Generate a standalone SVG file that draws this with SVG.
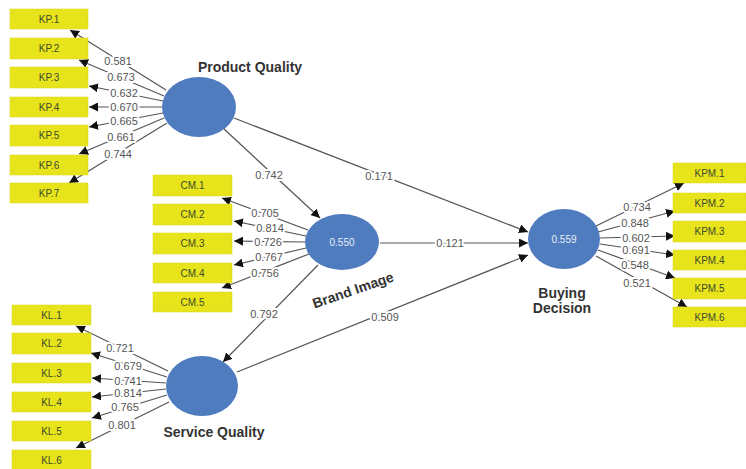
<svg xmlns="http://www.w3.org/2000/svg" width="746" height="469" viewBox="0 0 746 469">
<defs>
<marker id="ah" viewBox="0 0 10 10" refX="10" refY="5" markerWidth="9" markerHeight="9" markerUnits="userSpaceOnUse" orient="auto">
<path d="M0,0 L10,5 L0,10 z" fill="#111"/>
</marker>
<style>
.box{fill:#e8e41c;stroke:#d6d21a;stroke-width:0.5}
.bt{font-family:"Liberation Sans",Arial,sans-serif;font-size:10px;fill:#3d4a2a;text-anchor:middle;dominant-baseline:central}
.lv{fill:#4f7bbf}
.lvt{font-family:"Liberation Sans",Arial,sans-serif;font-size:10px;fill:#e8eef8;text-anchor:middle;dominant-baseline:central}
.nm{font-family:"Liberation Sans",Arial,sans-serif;font-size:14px;font-weight:bold;fill:#333;text-anchor:middle}
.ln{stroke:#555;stroke-width:1.2;fill:none;marker-end:url(#ah)}
.lb{font-family:"Liberation Sans",Arial,sans-serif;font-size:11px;fill:#555;text-anchor:middle;dominant-baseline:central;stroke:#fff;stroke-width:4;stroke-linejoin:round;paint-order:stroke}
</style>
</defs>
<rect width="746" height="469" fill="#fff"/>

<g id="connectors">
<line class="ln" x1="166" y1="90" x2="70" y2="30"/>
<line class="ln" x1="164" y1="96" x2="79" y2="60"/>
<line class="ln" x1="163" y1="101" x2="89" y2="86"/>
<line class="ln" x1="162" y1="107" x2="89" y2="107"/>
<line class="ln" x1="163" y1="113" x2="89" y2="127"/>
<line class="ln" x1="164" y1="118" x2="79" y2="154"/>
<line class="ln" x1="167" y1="123" x2="69" y2="183"/>

<line class="ln" x1="308" y1="230" x2="222" y2="198"/>
<line class="ln" x1="306" y1="236" x2="234" y2="221"/>
<line class="ln" x1="305" y1="242" x2="234" y2="241"/>
<line class="ln" x1="306" y1="248" x2="234" y2="265"/>
<line class="ln" x1="309" y1="254" x2="222" y2="288"/>

<line class="ln" x1="168" y1="371" x2="76" y2="326"/>
<line class="ln" x1="167" y1="377" x2="91" y2="353"/>
<line class="ln" x1="166" y1="383" x2="92" y2="378"/>
<line class="ln" x1="166" y1="389" x2="92" y2="397"/>
<line class="ln" x1="167" y1="395" x2="92" y2="418"/>
<line class="ln" x1="169" y1="402" x2="76" y2="448"/>

<line class="ln" x1="596" y1="226" x2="684" y2="183"/>
<line class="ln" x1="598" y1="232" x2="675" y2="211"/>
<line class="ln" x1="600" y1="238" x2="675" y2="236"/>
<line class="ln" x1="600" y1="244" x2="675" y2="255"/>
<line class="ln" x1="598" y1="250" x2="675" y2="278"/>
<line class="ln" x1="596" y1="256" x2="687" y2="307"/>

<line class="ln" x1="224" y1="129" x2="320" y2="218"/>
<line class="ln" x1="234" y1="118" x2="528" y2="232"/>
<line class="ln" x1="380" y1="243" x2="528" y2="243"/>
<line class="ln" x1="318" y1="265" x2="223" y2="362"/>
<line class="ln" x1="237" y1="372" x2="528" y2="255"/>

<text class="lb" x="118" y="61">0.581</text>
<text class="lb" x="121" y="77">0.673</text>
<text class="lb" x="124" y="93">0.632</text>
<text class="lb" x="124" y="107">0.670</text>
<text class="lb" x="124" y="121">0.665</text>
<text class="lb" x="121" y="137">0.661</text>
<text class="lb" x="118" y="154">0.744</text>

<text class="lb" x="265" y="213">0.705</text>
<text class="lb" x="270" y="228">0.814</text>
<text class="lb" x="268" y="242">0.726</text>
<text class="lb" x="269" y="257">0.767</text>
<text class="lb" x="265" y="273">0.756</text>

<text class="lb" x="120" y="348">0.721</text>
<text class="lb" x="128" y="366">0.679</text>
<text class="lb" x="128" y="381">0.741</text>
<text class="lb" x="128" y="393">0.814</text>
<text class="lb" x="125" y="407">0.765</text>
<text class="lb" x="122" y="425">0.801</text>

<text class="lb" x="637" y="207">0.734</text>
<text class="lb" x="635" y="223">0.848</text>
<text class="lb" x="636" y="238">0.602</text>
<text class="lb" x="636" y="250">0.691</text>
<text class="lb" x="635" y="265">0.548</text>
<text class="lb" x="637" y="283">0.521</text>

<text class="lb" x="269" y="175">0.742</text>
<text class="lb" x="379" y="176">0.171</text>
<text class="lb" x="450" y="243">0.121</text>
<text class="lb" x="264" y="314">0.792</text>
<text class="lb" x="385" y="317">0.509</text>
</g>

<g id="KP1"><rect class="box" x="10" y="9" width="78" height="20"/><text class="bt" x="49" y="19">KP.1</text></g>
<g id="KP2"><rect class="box" x="10" y="38" width="78" height="21"/><text class="bt" x="49" y="48.5">KP.2</text></g>
<g id="KP3"><rect class="box" x="10" y="67" width="78" height="21"/><text class="bt" x="49" y="77.5">KP.3</text></g>
<g id="KP4"><rect class="box" x="10" y="97" width="78" height="20"/><text class="bt" x="49" y="107">KP.4</text></g>
<g id="KP5"><rect class="box" x="10" y="125" width="78" height="21"/><text class="bt" x="49" y="135.5">KP.5</text></g>
<g id="KP6"><rect class="box" x="10" y="155" width="78" height="20"/><text class="bt" x="49" y="165">KP.6</text></g>
<g id="KP7"><rect class="box" x="10" y="183" width="78" height="20"/><text class="bt" x="49" y="193">KP.7</text></g>

<g id="CM1"><rect class="box" x="153" y="175" width="79" height="21"/><text class="bt" x="192.5" y="185.5">CM.1</text></g>
<g id="CM2"><rect class="box" x="153" y="204" width="79" height="21"/><text class="bt" x="192.5" y="214.5">CM.2</text></g>
<g id="CM3"><rect class="box" x="153" y="233" width="79" height="21"/><text class="bt" x="192.5" y="243.5">CM.3</text></g>
<g id="CM4"><rect class="box" x="153" y="263" width="79" height="20"/><text class="bt" x="192.5" y="273">CM.4</text></g>
<g id="CM5"><rect class="box" x="153" y="292" width="79" height="20"/><text class="bt" x="192.5" y="302">CM.5</text></g>

<g id="KL1"><rect class="box" x="12" y="305" width="79" height="20"/><text class="bt" x="51.5" y="315">KL.1</text></g>
<g id="KL2"><rect class="box" x="12" y="333" width="79" height="21"/><text class="bt" x="51.5" y="343.5">KL.2</text></g>
<g id="KL3"><rect class="box" x="12" y="363" width="79" height="20"/><text class="bt" x="51.5" y="373">KL.3</text></g>
<g id="KL4"><rect class="box" x="12" y="392" width="79" height="20"/><text class="bt" x="51.5" y="402">KL.4</text></g>
<g id="KL5"><rect class="box" x="12" y="421" width="79" height="20"/><text class="bt" x="51.5" y="431">KL.5</text></g>
<g id="KL6"><rect class="box" x="12" y="450" width="79" height="20"/><text class="bt" x="51.5" y="460">KL.6</text></g>

<g id="KPM1"><rect class="box" x="673" y="163" width="73" height="20"/><text class="bt" x="709.5" y="173">KPM.1</text></g>
<g id="KPM2"><rect class="box" x="673" y="193" width="73" height="20"/><text class="bt" x="709.5" y="203">KPM.2</text></g>
<g id="KPM3"><rect class="box" x="673" y="221" width="73" height="21"/><text class="bt" x="709.5" y="231.5">KPM.3</text></g>
<g id="KPM4"><rect class="box" x="673" y="250" width="73" height="20"/><text class="bt" x="709.5" y="260">KPM.4</text></g>
<g id="KPM5"><rect class="box" x="673" y="278" width="73" height="21"/><text class="bt" x="709.5" y="288.5">KPM.5</text></g>
<g id="KPM6"><rect class="box" x="673" y="307" width="73" height="20"/><text class="bt" x="709.5" y="317">KPM.6</text></g>

<g id="ProductQuality"><ellipse class="lv" cx="199" cy="107" rx="37" ry="30"/><text class="nm" x="250" y="72">Product Quality</text></g>
<g id="BrandImage"><ellipse class="lv" cx="342" cy="242" rx="37" ry="28"/><text class="lvt" x="342" y="242">0.550</text><text class="nm" x="353" y="295" transform="rotate(-19 353 290)">Brand Image</text></g>
<g id="ServiceQuality"><ellipse class="lv" cx="202" cy="386" rx="36" ry="30"/><text class="nm" x="214" y="437">Service Quality</text></g>
<g id="BuyingDecision"><ellipse class="lv" cx="564" cy="239" rx="36" ry="30"/><text class="lvt" x="564" y="239">0.559</text><text class="nm" x="562" y="298">Buying</text><text class="nm" x="562" y="313">Decision</text></g>
</svg>
